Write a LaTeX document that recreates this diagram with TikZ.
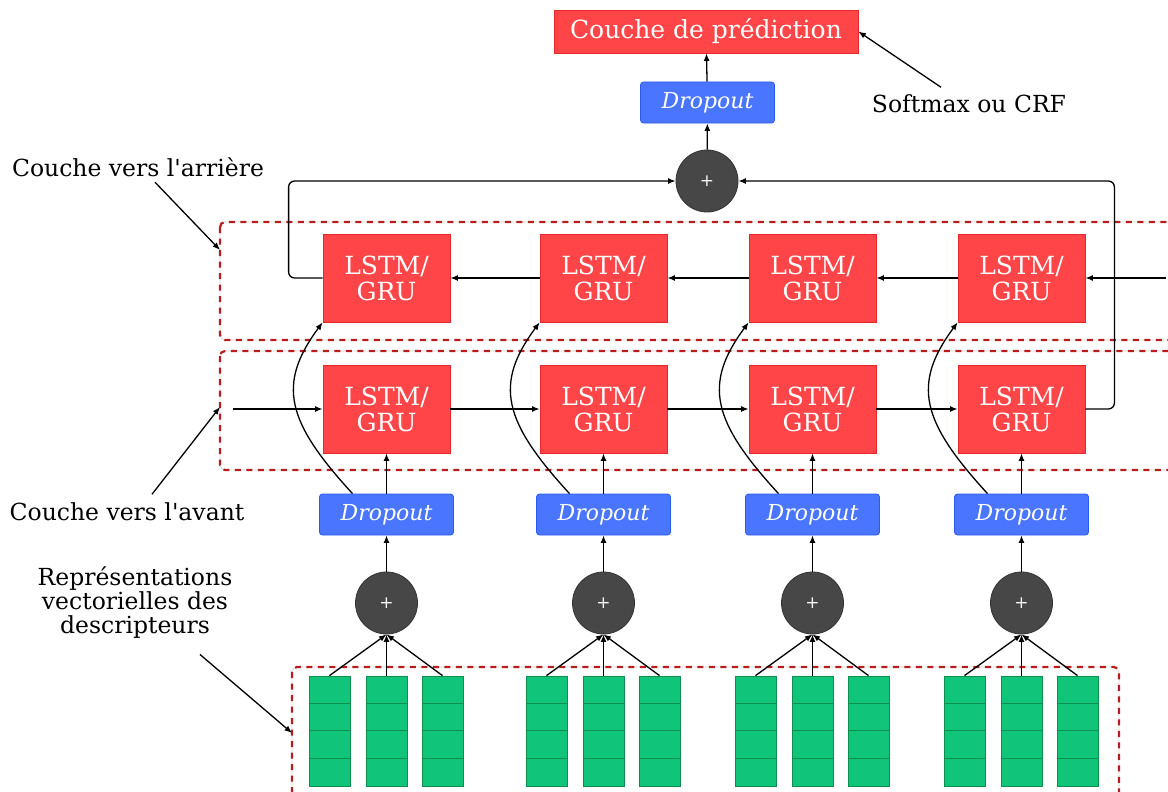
\documentclass[tikz,border=0pt]{standalone}
\usepackage{fontspec}
\setmainfont{DejaVu Serif}
\usepackage{tikz}
\usetikzlibrary{arrows.meta}

\definecolor{rnnfill}{HTML}{FF4547}
\definecolor{rnnline}{HTML}{E8262B}
\definecolor{dropfill}{HTML}{4A76FF}
\definecolor{dropline}{HTML}{2A5AF0}
\definecolor{plusfill}{HTML}{474747}
\definecolor{embfill}{HTML}{10C479}
\definecolor{embline}{HTML}{0E8F4E}
\definecolor{layerred}{HTML}{B81C1C}

\begin{document}
\begin{tikzpicture}[x=1pt,y=-1pt,>={Latex[length=7.5pt,width=6pt]},line width=1.3pt,
    rnn/.style={draw=rnnline,line width=0.8pt,fill=rnnfill,text=white,minimum width=127pt,minimum height=88pt,
      inner sep=0pt,align=center,font=\fontsize{25}{26}\selectfont},
    drop/.style={draw=dropline,line width=0.8pt,fill=dropfill,rounded corners=3pt,text=white,minimum width=134pt,
      minimum height=41pt,inner sep=0pt,font=\fontsize{22}{24}\selectfont\itshape},
    plus/.style={circle,draw=black!80,line width=0.8pt,fill=plusfill,text=white,minimum size=62pt,inner sep=0pt,
      font=\fontsize{17}{18}\selectfont},
    emb/.style={draw=embline,line width=0.8pt,fill=embfill,minimum width=41pt,minimum height=110pt,inner sep=0pt},
    layer/.style={preaction={draw=black!18,line width=0.6pt,solid},draw=layerred,line width=2.2pt,
      dash pattern=on 6pt off 5.5pt,rounded corners=5pt},
    lbl/.style={font=\fontsize{23.5}{24}\selectfont,align=center,inner sep=0pt}]
\useasboundingbox (0,0) rectangle (1168,792);

% dashed layers
\draw[layer] (220,222) rectangle (1185,340);
\draw[layer] (220,351) rectangle (1185,470);
\draw[layer] (292,667) rectangle (1119,805);

% top of the network
\node[rnn,minimum width=304pt,minimum height=43pt] (pred) at (706,31.5) {Couche de prédiction};
\node[drop] (dropt) at (707.5,102.5) {Dropout};
\node[plus] (plust) at (707,181) {+};
\draw[->] (dropt) -- (pred);
\draw[->] (plust) -- (dropt);

% one column per word
\foreach \i/\cx in {1/386.5,2/603.5,3/812.5,4/1021.5}{
    \node[rnn] (lstmb\i) at (\cx,278) {LSTM/\\GRU};
    \node[rnn] (lstmf\i) at (\cx,409) {LSTM/\\GRU};
    \node[drop] (drop\i) at (\cx,514.5) {Dropout};
    \node[plus] (plus\i) at (\cx,603) {+};
    \draw[->] (plus\i) -- (drop\i);
    \draw[->] (drop\i) -- (lstmf\i);
    \draw[->] ([xshift=-34pt]drop\i.north) .. controls +(-66,-72) and +(-46,62) .. (lstmb\i.south west);
    \foreach \j/\dx in {a/-57,b/0,c/56}{
        \node[emb] (vec\i\j) at (\cx+\dx,731) {};
        \foreach \k in {1,2,3}
            \draw[embline,line width=0.8pt] ([yshift=-27.5*\k pt]vec\i\j.north west) -- ([yshift=-27.5*\k pt]vec\i\j.north east);
        \draw[->] (vec\i\j.north) -- (plus\i.south);
    }
}

\foreach \a/\b in {1/2,2/3,3/4}{
    \draw[->] (lstmf\a) -- (lstmf\b);
    \draw[->] (lstmb\b) -- (lstmb\a);
}
\coordinate (fin) at (233,409);
\coordinate (bin) at (1166,278);
\draw[->] (fin) -- (lstmf1);
\draw[->] (bin) -- (lstmb4);
\draw[->,rounded corners=6pt] (lstmb1.west) -- ++(-34,0) |- (plust.west);
\draw[->,rounded corners=6pt] (lstmf4.east) -- ++(29,0) |- (plust.east);

% labels
\node[lbl] (back) at (138,167) {Couche vers l\textquotesingle arrière};
\node[lbl] (fwd) at (127,512) {Couche vers l\textquotesingle avant};
\node[lbl] (repr) at (135,603) {Représentations\\vectorielles des\\ descripteurs};
\node[lbl] (soft) at (969,104) {Softmax ou CRF};
\coordinate (backtip) at (220,250);
\coordinate (fwdtip) at (220,407);
\coordinate (reprtip) at (292,733);
\draw[->] ([xshift=17pt,yshift=-5pt]back.south) -- (backtip);
\draw[->] ([xshift=25pt,yshift=8pt]fwd.north) -- (fwdtip);
\draw[->] ([xshift=65pt,yshift=-15pt]repr.south) -- (reprtip);
\draw[->] ([xshift=-28pt,yshift=7pt]soft.north) -- (pred.east);
\end{tikzpicture}
\end{document}
